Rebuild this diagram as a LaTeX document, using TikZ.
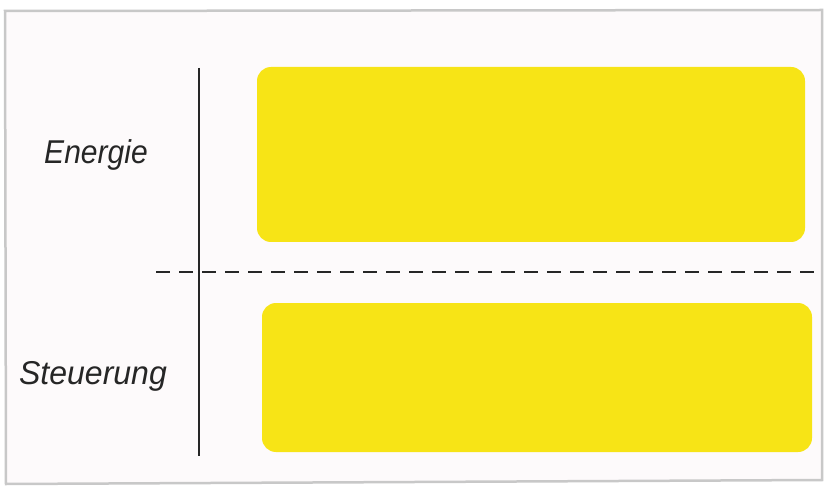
\documentclass[tikz,border=0pt]{standalone}
\usepackage{fontspec}
\setmainfont{Liberation Sans}
\definecolor{marker}{RGB}{247,228,22}
\definecolor{framegray}{RGB}{200,200,200}
\definecolor{paper}{RGB}{253,250,251}
\begin{document}
\begin{tikzpicture}[x=1pt,y=-1pt,
  bar/.style={fill=marker,draw=none,rounded corners=14pt},
  label/.style={font=\itshape\fontsize{33}{36}\selectfont,text=black!85,inner sep=0pt},
  rule/.style={draw=black!85,line width=2.4pt}]
\useasboundingbox (0,0) rectangle (830,497);
\fill[white] (0,0) rectangle (830,497);
\draw[framegray,line width=2.5pt,fill=paper] (5,11) -- (822,10) -- (822,480) -- (6,484) -- cycle;
\fill[bar] (257,67) rectangle (805,242);
\fill[bar] (262,303) rectangle (812,452);
\coordinate (vtop) at (199,68);
\coordinate (vbot) at (199,456);
\draw[rule] (vtop) -- (vbot);
\coordinate (dl) at (156,272);
\coordinate (dr) at (815,272);
\draw[rule,dash pattern=on 14pt off 9pt] (dl) -- (dr);
\node[label,xscale=0.91] (energie) at (96,155) {Energie};
\node[label,xscale=0.97] (steuerung) at (93,376) {Steuerung};
\end{tikzpicture}
\end{document}
